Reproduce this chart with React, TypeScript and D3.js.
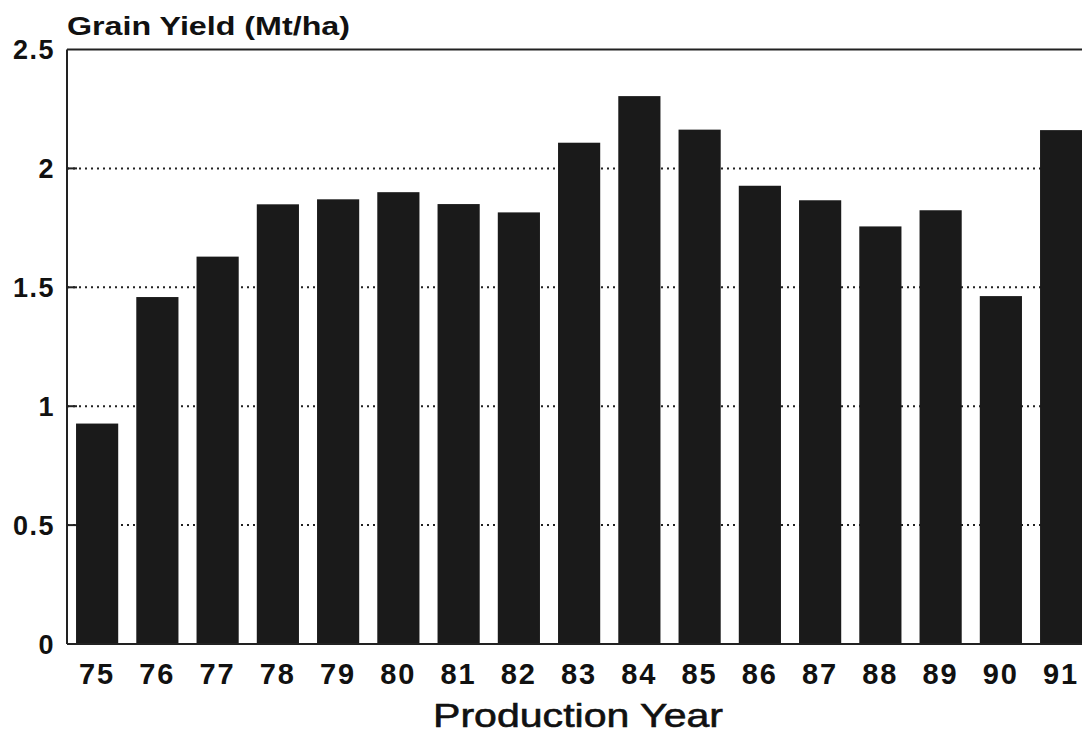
import React from 'react';
import * as d3 from 'd3';

const years = ['75', '76', '77', '78', '79', '80', '81', '82', '83', '84', '85', '86', '87', '88', '89', '90', '91'];
const grainYield = [0.927, 1.459, 1.629, 1.849, 1.87, 1.9, 1.85, 1.815, 2.108, 2.304, 2.163, 1.927, 1.866, 1.756, 1.824, 1.463, 2.161];
const yTicks = [0, 0.5, 1, 1.5, 2, 2.5];
const gridTicks = [0.5, 1, 1.5, 2];

const width = 1082;
const height = 734;
const left = 67;
const top = 49.5;
const bottom = 644;
const font = '"Liberation Sans", Arial, Helvetica, sans-serif';

export default function App() {
  // the plot runs past the right edge of the picture, as in the scan
  const x = d3.scaleBand<string>()
    .domain(years)
    .range([left, left + 17 * 60.25])
    .paddingInner(0.3)
    .paddingOuter(0.15);

  const y = d3.scaleLinear().domain([0, 2.5]).range([bottom, top]);

  const fmt = (v: number) => (v === 0 ? '0' : d3.format('~g')(v));

  return (
    <svg
      width={width}
      height={height}
      style={{ position: 'absolute', left: 0, top: 0, background: '#fff' }}
    >
      {/* grid lines */}
      {gridTicks.map(t => (
        <line
          key={t}
          x1={left}
          x2={width}
          y1={y(t)}
          y2={y(t)}
          stroke="#222"
          strokeWidth={2}
          strokeDasharray="2,4"
        />
      ))}
      {gridTicks.map(t => (
        <line key={'tk' + t} x1={left} x2={left + 10} y1={y(t)} y2={y(t)} stroke="#222" strokeWidth={2} />
      ))}

      {/* bars */}
      {years.map((yr, i) => (
        <rect
          key={yr}
          x={x(yr)}
          y={y(grainYield[i])}
          width={x.bandwidth()}
          height={y(0) - y(grainYield[i])}
          fill="#1a1a1a"
        />
      ))}

      {/* frame */}
      <line x1={left} x2={left} y1={y(2.5)} y2={y(0)} stroke="#222" strokeWidth={2} />
      <line x1={left} x2={width} y1={y(2.5)} y2={y(2.5)} stroke="#222" strokeWidth={2} />
      <line x1={left} x2={width} y1={y(0)} y2={y(0)} stroke="#222" strokeWidth={2} />

      {/* y tick labels */}
      {yTicks.map(t => (
        <text
          key={'yl' + t}
          x={55}
          y={y(t)}
          dy="0.36em"
          textAnchor="end"
          fontFamily={font}
          fontWeight="bold"
          fontSize={27}
          letterSpacing={1.5}
          fill="#111"
        >
          {fmt(t)}
        </text>
      ))}

      {/* x tick labels */}
      {years.map(yr => (
        <text
          key={'xl' + yr}
          x={(x(yr) as number) + x.bandwidth() / 2}
          y={684}
          textAnchor="middle"
          fontFamily={font}
          fontWeight="bold"
          fontSize={29}
          letterSpacing={2}
          fill="#111"
        >
          {yr}
        </text>
      ))}

      {/* titles */}
      <text
        x={67}
        y={35}
        fontFamily={font}
        fontWeight="bold"
        fontSize={26}
        textLength={283}
        lengthAdjust="spacingAndGlyphs"
        fill="#111"
      >
        Grain Yield (Mt/ha)
      </text>
      <text
        x={433}
        y={727}
        fontFamily={font}
        fontSize={34}
        textLength={290}
        lengthAdjust="spacingAndGlyphs"
        stroke="#111"
        strokeWidth={0.6}
        fill="#111"
      >
        Production Year
      </text>
    </svg>
  );
}
